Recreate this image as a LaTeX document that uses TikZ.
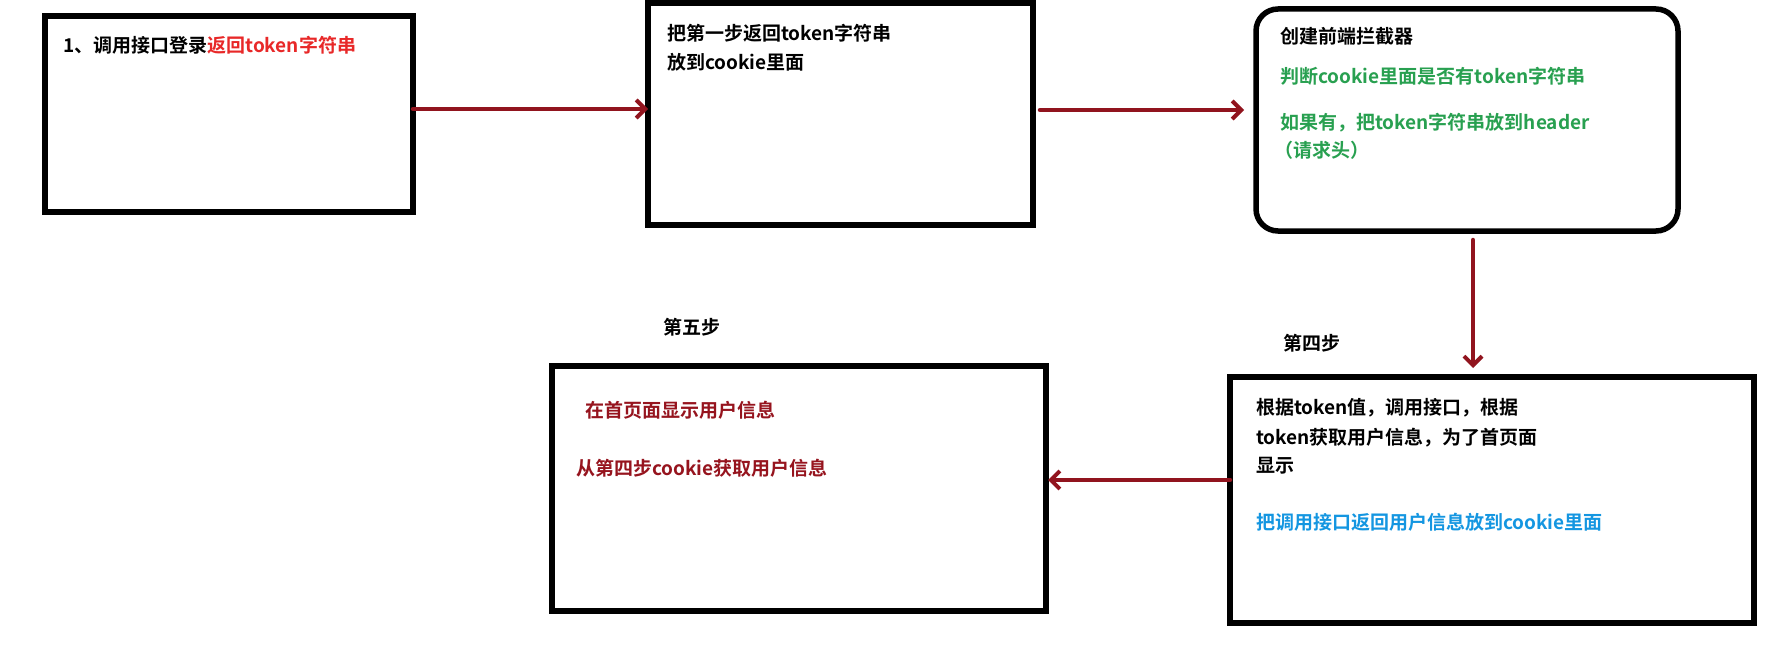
\documentclass[tikz,border=0pt]{standalone}
\usepackage{fontspec}
\setmainfont{Noto Sans CJK SC Bold}
\usetikzlibrary{arrows.meta}
\definecolor{rtxt}{RGB}{232,40,40}
\definecolor{drtxt}{RGB}{150,20,30}
\definecolor{gtxt}{RGB}{40,160,80}
\definecolor{btxt}{RGB}{20,150,225}
\definecolor{arr}{RGB}{145,20,30}
\tikzset{
 box/.style={draw=black,line width=5.5pt},
 conn/.style={draw=arr,line width=4.5pt,line cap=round,-{Straight Barb[length=9pt,width=18pt,line width=4pt]}},
 txt/.style={anchor=west,inner sep=0pt,font=\fontsize{19}{24}\selectfont}
}
\begin{document}
\begin{tikzpicture}[x=1pt,y=-1pt]
\useasboundingbox[fill=white] (0,0) rectangle (1774,663);
\draw[box] (45,16) rectangle (413,212);
\coordinate (b1e) at (413,109);
\draw[box] (648,3) rectangle (1033,225);
\coordinate (b2w) at (648,109);
\coordinate (b2e) at (1040,110);
\draw[box,rounded corners=22pt] (1256,9) rectangle (1678,231);
\coordinate (b3w) at (1244,110);
\coordinate (b3s) at (1473,240);
\draw[box] (1230,377) rectangle (1754,623);
\coordinate (b4n) at (1473,368);
\coordinate (b4w) at (1230,480);
\draw[box] (552,366) rectangle (1046,611);
\coordinate (b5e) at (1048,480);

\node[txt] (t1) at (63,45) {1、调用接口登录\textcolor{rtxt}{返回token字符串}};
\node[txt] (t2a) at (667,33) {把第一步返回token字符串};
\node[txt] (t2b) at (667,62) {放到cookie里面};
\node[txt] (t3a) at (1280,36) {创建前端拦截器};
\node[txt,text=gtxt] (t3b) at (1280,76) {判断cookie里面是否有token字符串};
\node[txt,text=gtxt] (t3c) at (1280,123) {如果有，把token字符串放到header};
\node[txt,text=gtxt] (t3d) at (1274,150) {（请求头）};
\node[txt] (s4) at (1283,343) {第四步};
\node[txt] (t4a) at (1256,408) {根据token值，调用接口，根据};
\node[txt] (t4b) at (1256,438) {token获取用户信息，为了首页面};
\node[txt] (t4c) at (1256,466) {显示};
\node[txt,text=btxt] (t4d) at (1256,522) {把调用接口返回用户信息放到cookie里面};
\node[txt] (s5) at (663,327) {第五步};
\node[txt,text=drtxt] (t5a) at (585,410) {在首页面显示用户信息};
\node[txt,text=drtxt] (t5b) at (576,468) {从第四步cookie获取用户信息};

\draw[conn] (b1e) -- (b2w);
\draw[conn] (b2e) -- (b3w);
\draw[conn] (b3s) -- (b4n);
\draw[conn] (b4w) -- (b5e);
\end{tikzpicture}
\end{document}
